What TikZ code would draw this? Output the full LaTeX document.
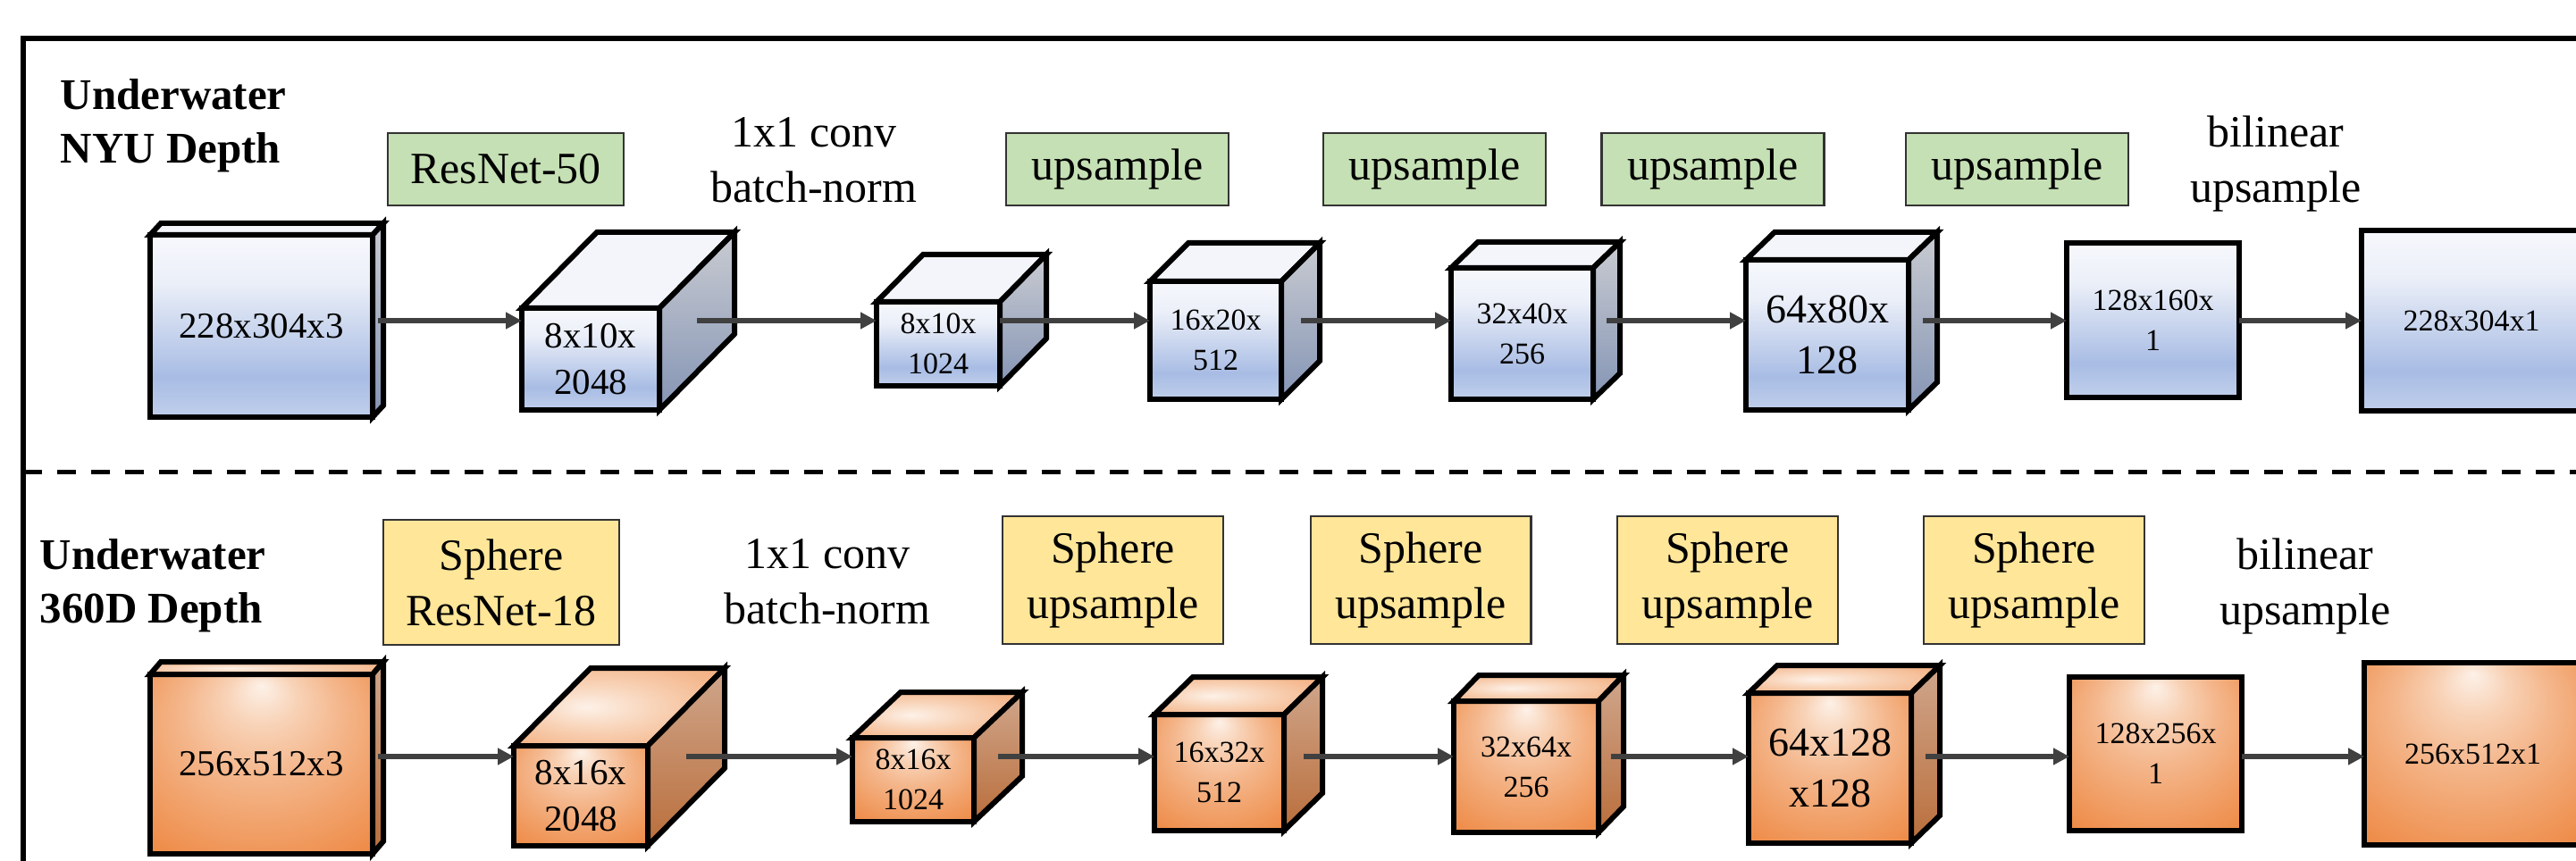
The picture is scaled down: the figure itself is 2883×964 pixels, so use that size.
\documentclass[tikz,border=0pt]{standalone}
\usepackage{fontspec}
\setmainfont{Liberation Serif}
\usetikzlibrary{arrows.meta}
\usetikzlibrary{calc}

\definecolor{netgreen}{HTML}{C5E0B4}
\definecolor{netyellow}{HTML}{FFE699}
\definecolor{flowgray}{HTML}{404040}
\definecolor{blueA}{HTML}{C0CFEB}
\definecolor{blueB}{HTML}{A8BCE4}
\definecolor{blueC}{HTML}{EBEFF8}
\definecolor{blueD}{HTML}{F6F8FC}
\definecolor{bluetop}{HTML}{F3F5FA}
\definecolor{orA}{HTML}{FDF1E8}
\definecolor{orB}{HTML}{F8D2B6}
\definecolor{orC}{HTML}{F4B68B}
\definecolor{orD}{HTML}{F1A068}
\definecolor{orE}{HTML}{EE8B48}
\definecolor{orF}{HTML}{EB7A2E}
\definecolor{sideA}{HTML}{C9CBD1}
\definecolor{sideB}{HTML}{8595B5}
\definecolor{sideC}{HTML}{CFA68C}
\definecolor{sideD}{HTML}{BA6E3B}

\pgfdeclareverticalshading{blueface}{100bp}{color(0bp)=(blueA); color(25bp)=(blueA); color(36bp)=(blueB); color(62bp)=(blueC); color(75bp)=(blueD); color(100bp)=(blueD)}
\pgfdeclareradialshading{orangeface}{\pgfpoint{0bp}{22bp}}{color(0bp)=(orA); color(8bp)=(orB); color(18bp)=(orC); color(28bp)=(orD); color(38bp)=(orE); color(50bp)=(orF)}
\pgfdeclareradialshading{orangelid}{\pgfpoint{-8bp}{0bp}}{color(0bp)=(orA); color(15bp)=(orB); color(30bp)=(orC); color(50bp)=(orD)}

% name, colour, centre, width, height, depth, text size, text
\newcommand{\layerbox}[8]{%
  \node[#2, minimum width=#4*0.3pt, minimum height=#5*0.3pt, #7] (#1) at #3 {#8};
  \path[edge, #2 top] (#1.north west) -- ([shift={#6}]#1.north west) -- ([shift={#6}]#1.north east) -- (#1.north east) -- cycle;
  \path[edge, #2 side] (#1.north east) -- ([shift={#6}]#1.north east) -- ([shift={#6}]#1.south east) -- (#1.south east) -- cycle;
  \coordinate (#1-out) at ($(#1.east)+0.5*#6$);
}

\begin{document}
\begin{tikzpicture}[x=0.3pt, y=-0.3pt,
	edge/.style={draw, line width=1.8pt},
	blue/.style={edge, shade, shading=blueface, outer sep=0pt, inner sep=0pt, align=center},
	blue top/.style={fill=bluetop},
	blue side/.style={top color=sideA, bottom color=sideB},
	orange/.style={edge, shade, shading=orangeface, outer sep=0pt, inner sep=0pt, align=center},
	orange top/.style={shade, shading=orangelid},
	orange side/.style={top color=sideC, bottom color=sideD},
	smalltext/.style={font=\fontsize{10.2}{13.5}\selectfont},
	bigtext/.style={font=\fontsize{12.3}{15.6}\selectfont},
	hugetext/.style={font=\fontsize{13.8}{17}\selectfont},
	title/.style={font=\bfseries\fontsize{14.7}{18}\selectfont, align=left, inner sep=0pt},
	note/.style={font=\fontsize{15}{18.6}\selectfont, align=center, inner sep=0pt},
	greenbox/.style={note, draw=black!80, line width=0.7pt, fill=netgreen, minimum height=24.3pt},
	yellowbox/.style={note, draw=black!80, line width=0.7pt, fill=netyellow, minimum height=43pt},
	flow/.style={draw=flowgray, line width=1.6pt, -{Triangle[length=5.4pt,width=5.4pt]}}]
	\useasboundingbox (0,0) rectangle (2883,964);

	\draw[line width=1.7pt] (26,1000) -- (26,43) -- (2900,43);
	\draw[line width=1.5pt, dash pattern=on 6.3pt off 5.1pt] (26,529) -- (2900,529);

	\coordinate (rowA) at (0,359);
	\coordinate (rowB) at (0,847);

	\node[title, anchor=base west] (nyu) at (67,183) {Underwater\\NYU Depth};
	\node[greenbox, minimum width=79.2pt] (resA) at (566,189.5) {ResNet-50};
	\node[note, anchor=base] (convA) at (911,227) {1x1 conv\\batch-norm};
	\node[greenbox, minimum width=74.7pt] (upA1) at (1250.5,189.5) {upsample};
	\node[greenbox, minimum width=74.7pt] (upA2) at (1605.5,189.5) {upsample};
	\node[greenbox, minimum width=74.7pt] (upA3) at (1917,189.5) {upsample};
	\node[greenbox, minimum width=74.7pt] (upA4) at (2257.5,189.5) {upsample};
	\node[note, anchor=base] (biA) at (2547,227) {bilinear\\upsample};

	\layerbox{a1}{blue}{(292.5,365)}{249}{204}{(12,-13)}{bigtext}{228x304x3}
	\layerbox{a2}{blue}{(661,402)}{154}{114}{(84,-85)}{bigtext}{8x10x\\2048}
	\layerbox{a3}{blue}{(1050,385)}{138}{94}{(52,-53)}{smalltext}{8x10x\\1024}
	\layerbox{a4}{blue}{(1360.5,381)}{147}{132}{(43,-43)}{smalltext}{16x20x\\512}
	\layerbox{a5}{blue}{(1703.5,373.5)}{159}{147}{(30,-29)}{smalltext}{32x40x\\256}
	\layerbox{a6}{blue}{(2045,375)}{182}{168}{(32,-31)}{hugetext}{64x80x\\128}
	\node[blue, smalltext, minimum width=57.9pt, minimum height=51.9pt] (a7) at (2409.5,358.5) {128x160x\\1};
	\node[blue, smalltext, minimum width=73.8pt, minimum height=60.6pt] (a8) at (2766,359) {228x304x1};

	\draw[flow] (a1-out |- rowA) -- (a2.west |- rowA);
	\draw[flow] (a2-out |- rowA) -- (a3.west |- rowA);
	\draw[flow] (a3.east |- rowA) -- (a4.west |- rowA);
	\draw[flow] (a4-out |- rowA) -- (a5.west |- rowA);
	\draw[flow] (a5-out |- rowA) -- (a6.west |- rowA);
	\draw[flow] (a6-out |- rowA) -- (a7.west |- rowA);
	\draw[flow] (a7.east |- rowA) -- (a8.west |- rowA);

	\node[title, anchor=base west] (sph) at (44,697) {Underwater\\360D Depth};
	\node[yellowbox, minimum width=79.2pt, minimum height=42pt] (resB) at (561,652) {Sphere\\ResNet-18};
	\node[note, anchor=base] (convB) at (926,699) {1x1 conv\\batch-norm};
	\node[yellowbox, minimum width=74pt] (upB1) at (1245.5,649.5) {Sphere\\upsample};
	\node[yellowbox, minimum width=74pt] (upB2) at (1590,649.5) {Sphere\\upsample};
	\node[yellowbox, minimum width=74pt] (upB3) at (1933.5,649.5) {Sphere\\upsample};
	\node[yellowbox, minimum width=74pt] (upB4) at (2276.5,649.5) {Sphere\\upsample};
	\node[note, anchor=base] (biB) at (2580,700) {bilinear\\upsample};

	\layerbox{b1}{orange}{(292.5,855.5)}{249}{201}{(12,-14)}{bigtext}{256x512x3}
	\layerbox{b2}{orange}{(650,891)}{150}{112}{(86,-87)}{bigtext}{8x16x\\2048}
	\layerbox{b3}{orange}{(1022,873)}{136}{94}{(54,-51)}{smalltext}{8x16x\\1024}
	\layerbox{b4}{orange}{(1364.5,865)}{145}{130}{(43,-42)}{smalltext}{16x32x\\512}
	\layerbox{b5}{orange}{(1708,858.5)}{162}{147}{(28,-29)}{smalltext}{32x64x\\256}
	\layerbox{b6}{orange}{(2048,860)}{182}{168}{(32,-31)}{hugetext}{64x128\\x128}
	\node[orange, smalltext, minimum width=57.9pt, minimum height=51.6pt] (b7) at (2412.5,844) {128x256x\\1};
	\node[orange, smalltext, minimum width=72.9pt, minimum height=61.2pt] (b8) at (2767.5,844) {256x512x1};

	\draw[flow] (b1-out |- rowB) -- (b2.west |- rowB);
	\draw[flow] (b2-out |- rowB) -- (b3.west |- rowB);
	\draw[flow] (b3-out |- rowB) -- (b4.west |- rowB);
	\draw[flow] (b4-out |- rowB) -- (b5.west |- rowB);
	\draw[flow] (b5-out |- rowB) -- (b6.west |- rowB);
	\draw[flow] (b6-out |- rowB) -- (b7.west |- rowB);
	\draw[flow] (b7.east |- rowB) -- (b8.west |- rowB);
\end{tikzpicture}
\end{document}
